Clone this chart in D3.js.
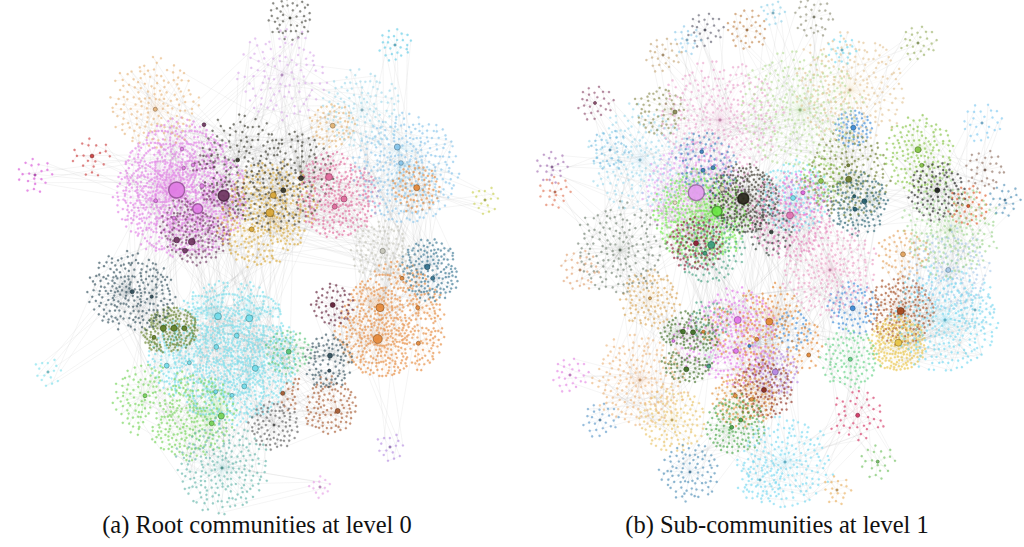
<!DOCTYPE html>
<html>
<head>
<meta charset="utf-8">
<script src="https://cdn.jsdelivr.net/npm/d3@7"></script>
<style>
  body { margin: 0; background: #fff; }
  svg { display: block; }
</style>
</head>
<body>
<svg id="chart" width="1024" height="547"></svg>
<script>
// layout coords: 0..500 per panel. community = [x, y, spread, leaf count]
var aCommunities = [
  [165,188,55,1000],[198,215,35,220],[256,222,45,320],[243,150,55,260],[323,195,38,260],
  [408,200,50,320],[403,188,22,70],[378,322,46,520],[215,345,56,1000],[158,330,20,170],
  [108,290,38,220],[140,405,45,330],[210,468,45,200],[306,400,30,120],[418,268,28,150],
  [138,95,45,150],[316,362,22,90],[262,425,22,80],[278,18,14,45],[383,45,9,25],
  [80,158,12,20],[276,352,20,60],[378,447,8,15],[23,175,10,20],[473,200,8,15],
  [36,372,8,15],[366,250,30,100],[308,487,6,12],[320,125,20,60],[321,305,18,50],
  [270,75,50,100],[350,110,40,120]
];
var aColors = [
  "#e07ce4","#6e3460","#d8a636","#35352a","#e0689a","#86c4ea","#e2883a","#e5893a","#72dcea","#5f7d22",
  "#2f4d5a","#74d458","#62b4aa","#a65a30","#33728f","#e6b57c","#2f4d5a","#5a5a5a","#4a4a40","#5fcbe6",
  "#cc3b3b","#55c476","#b48ae0","#d64fd6","#c8d050","#7ee0ec","#c4c4b8","#e6a0e6","#e2b272","#5e1c34",
  "#d9a8e8","#9fd8ea"
];
// hub = [community, x, y, degree]
var aHubs = [
  [0,164.7,190,640],[0,185.7,208.7,250],[0,190,186,50],[0,143.7,200.7,35],[0,162,218,35],[0,170,149,35],[0,181,165,35],[0,171.7,168,30],
  [1,211.7,195.7,300],[1,164.7,240,80],[1,179.7,241.7,110],[1,173,250.7,60],[1,192,124.7,35],
  [20,80,156,35],[15,143.3,109.3,40],
  [2,258,212.7,160],[2,261.3,195.3,90],[2,239.7,229.3,60],
  [3,289,178.3,60],[3,271.3,190.3,60],[3,225.7,160,35],
  [28,320.7,125.7,60],
  [4,317,177,120],[4,332,199,90],[4,322.7,206.7,60],
  [5,385.3,147,90],[5,389,163,55],[6,404.7,187.7,90],[26,370.7,251,70],
  [14,415.3,267,70],[14,420.7,278.3,40],[10,120.3,291.7,40],[10,139.7,296.7,25],[29,320.7,305,60],
  [7,368,307.7,160],[7,365.7,339,200],[7,390,278.3,40],[7,405.7,307.7,40],[7,406.3,343.3,40],
  [9,151.3,328.3,90],[9,162,328.3,90],[9,172.3,328.3,60],[9,142,337.3,40],
  [8,206,316.3,120],[8,237.3,318.3,120],[8,204.3,347,60],[8,224.7,335.7,60],[8,243.3,368.3,90],
  [8,154.7,365.7,60],[8,177.3,362.7,40],[8,232.3,386.3,60],[8,203.7,391.7,40],[8,220,395.3,40],
  [21,276.7,351.7,60],[16,318,355.7,60],[16,317.3,370.7,25],[13,270.7,393.3,40],[13,325.7,411,60],
  [11,209.3,416,90],[11,199.7,423.3,60],[11,133,395.7,40]
];
// bridge = [community a, community b, edge count]
var aBridges = [
  [0,1,40],[0,3,40],[0,8,30],[0,10,30],[0,15,25],[0,30,20],[1,2,30],[1,8,20],[2,3,40],[2,4,30],
  [2,8,40],[3,4,40],[3,18,10],[3,28,15],[3,30,20],[4,5,30],[4,26,20],[4,31,15],[5,6,15],[5,7,25],
  [5,14,20],[5,19,8],[5,24,8],[5,31,20],[7,14,20],[7,26,30],[7,29,15],[7,16,20],[7,22,6],[8,9,40],
  [8,11,40],[8,12,30],[8,13,30],[8,21,20],[8,16,20],[9,10,30],[10,25,8],[11,12,30],[12,27,5],[13,17,15],
  [16,29,15],[0,20,8],[0,23,8],[15,3,20],[28,0,15],[30,31,15],[8,17,20],[26,2,20],[10,11,20]
];

var bCommunities = [
  [162,190,40,300],[152,222,38,420],[217,198,28,260],[262,220,35,200],[267,195,30,150],
  [184,250,30,150],[168,245,22,110],[325,128,12,60],[332,202,25,130],[320,175,35,160],
  [390,155,30,150],[409,192,25,90],[440,206,12,40],[372,311,28,180],[370,345,22,200],
  [420,272,35,160],[417,320,45,260],[325,308,25,110],[207,340,35,260],[240,325,35,220],
  [160,345,25,160],[247,372,18,80],[236,390,25,120],[330,415,20,40],[222,402,25,120],
  [204,430,25,120],[257,462,40,180],[144,420,28,120],[162,472,25,80],[122,300,25,100],
  [42,375,10,25],[322,359,25,100],[192,120,55,280],[272,110,55,280],[322,90,50,220],
  [112,160,45,200],[422,230,40,200],[92,250,40,150],[302,270,40,220],[112,380,40,180],
  [112,110,20,60],[219,30,12,35],[177,30,10,25],[159,40,8,18],[286,17,12,30],
  [245,13,7,15],[390,43,10,25],[135,55,10,25],[314,50,8,20],[67,103,10,25],
  [24,167,9,20],[27,192,9,20],[477,200,9,20],[454,123,12,25],[309,490,8,18],
  [350,462,10,20],[232,480,15,40],[72,420,10,25],[52,270,12,30],[457,170,12,30],
  [447,310,12,30],[82,150,12,30],[194,189,15,30],[177,165,25,80],[242,230,20,50],
  [275,193,15,40],[293,181,18,50],[375,254,20,60]
];
var bColors = [
  "#e49cf0","#6ae844","#2d2a1e","#e274b4","#74e0f0","#3c9c7c","#8c1c34","#3a8ad8","#215c6c","#6c7c2c",
  "#84c444","#1e1e1e","#e05524","#a2471c","#e8c444","#a8c8e8","#72d8f0","#3a8ad8","#e274ea","#e28432",
  "#3c6c22","#b484e2","#8c2c1c","#d43464","#e2923c","#44a444","#74d8f0","#e8c468","#4c8cb4","#d8a454",
  "#e484e4","#62d284","#e8a0cc","#b4dc94","#e2c494","#9cd8ec","#9cd48c","#6f7f6f","#ec9cc4","#ecb47c",
  "#8a8a50","#c0844c","#5c5c6c","#8cc8e8","#8c8c74","#8ad0e8","#9ab064","#c4a474","#72d8f0","#8c4c6c",
  "#a06cb0","#e07454","#4c8cb4","#7ec8f0","#e8b060","#70c060","#74d8f0","#5c98c8","#e0a070","#8c6c5c",
  "#7ed0e8","#6cb4dc","#e8dcc0","#3a7ebc","#2c3c34","#e464e4","#84c444","#e2a25c"
];
var bHubs = [
  [0,168.3,192.7,640],[1,189,211.3,250],[2,215.3,198.7,300],[62,194,188.7,60],[62,147,202.7,35],
  [63,175,170.3,40],[63,185,167.7,40],[63,173.7,151.7,35],[6,168,243.3,60],[5,183.3,245,120],[5,177,253.3,40],
  [64,243.3,232,35],[3,262,215.3,120],[4,265,198,60],[65,275,192.7,40],[66,293,181,60],
  [9,320.7,179.3,90],[9,320.3,165.3,25],[7,325.3,127.7,60],[8,336.3,201.3,60],[8,327,209.3,40],[8,326.3,196.3,25],
  [10,390,149.7,90],[10,393.7,165.3,40],[11,409.3,190.3,60],[12,440.3,206,25],[40,147,112,40],[49,67,103,22],
  [67,375,254.3,60],[15,420.3,270,60],[17,324.7,308.3,60],[13,372.7,311,120],[14,370.3,342.7,120],
  [18,209.7,320,120],[18,208,351,60],[18,145.3,341,22],[19,241.3,321.7,120],[19,228.7,339.3,40],[19,280.7,355,40],[19,175.3,331.7,25],
  [17,221.3,346,22],[20,155,331.7,60],[20,165,332.3,60],[20,158.3,369.3,60],[5,180.7,366.3,40],
  [21,247.3,372,90],[22,236,390,60],[24,223.7,399.3,40],[24,207.3,395.7,40],[31,322.3,359.3,40],
  [25,203.7,427.3,40],[25,212.7,420,40],[23,329.7,415.3,40],[55,349.7,461.7,22],[29,122,298.3,22]
];
var bBridges = [
  [0,1,30],[0,2,25],[0,32,30],[0,35,25],[0,63,15],[0,62,10],[1,5,25],[1,6,20],[1,2,25],[1,37,20],
  [2,3,25],[2,4,20],[2,64,15],[2,33,20],[3,4,20],[3,38,25],[3,65,10],[4,66,10],[9,66,15],[9,8,20],
  [9,7,10],[9,34,20],[8,11,15],[10,11,15],[10,36,20],[10,59,8],[11,12,10],[11,36,15],[13,14,25],[13,15,20],
  [13,16,20],[13,67,15],[14,16,25],[15,16,20],[15,36,20],[16,60,8],[17,31,15],[17,38,20],[18,19,30],[18,20,20],
  [18,21,15],[19,21,15],[19,22,20],[19,38,20],[20,29,15],[20,27,15],[22,24,20],[24,25,20],[25,28,15],[25,26,15],
  [26,56,10],[26,23,15],[23,31,15],[27,39,20],[29,39,15],[37,29,20],[37,58,8],[37,35,20],[35,61,8],[35,49,8],
  [32,40,10],[32,47,8],[32,43,6],[33,41,8],[33,44,8],[34,48,6],[34,46,8],[33,45,5],[32,42,6],[35,50,6],
  [37,51,6],[36,52,6],[36,53,8],[39,57,8],[39,30,6],[26,54,5],[23,55,6],[2,19,20],[1,18,20],[5,20,15],
  [6,22,10],[16,14,15],[38,31,15],[4,17,15],[3,19,20],[33,9,20],[32,33,25],[36,15,15],[8,17,10],[21,26,10]
];

var captions = ["(a) Root communities at level 0", "(b) Sub-communities at level 1"];

var svg = d3.select("#chart");
var rScale = d3.scaleSqrt().domain([0, 640]).range([0, 8]);

var panels = [
  {comm: aCommunities, colors: aColors, hubs: aHubs, bridges: aBridges, left: 12, capX: 257, loose: 1.4},
  {comm: bCommunities, colors: bColors, hubs: bHubs, bridges: bBridges, left: 528, capX: 777, loose: 1.65}
];

var golden = Math.PI * (3 - Math.sqrt(5));
var CHARGE = 1.2, DMAX = 30;

panels.forEach(function(p, pi) {
  var x = d3.scaleLinear().domain([0, 500]).range([p.left, p.left + 500]);
  var y = d3.scaleLinear().domain([0, 500]).range([0, 500]);
  var groups = p.comm.map(function() { return {hubs: [], leaves: [], links: []}; });
  var allNodes = [], allLinks = [];

  p.hubs.forEach(function(h) {
    var n = {c: h[0], deg: h[3], hub: true, x: x(h[1]), y: y(h[2]), fx: x(h[1]), fy: y(h[2])};
    groups[h[0]].hubs.push(n);
  });

  p.comm.forEach(function(c, i) {
    var g = groups[i], cx = x(c[0]), cy = y(c[1]);
    if (!g.hubs.length) {
      g.hubs.push({c: i, deg: 12, hub: true, x: cx, y: cy, fx: cx, fy: cy});
    }
    var N = c[3], direct = Math.ceil(N * 0.4);
    var tot = d3.sum(g.hubs, function(h) { return h.deg; });
    var cum = Array.from(d3.cumsum(g.hubs, function(h) { return h.deg / tot; }));
    var Rf = c[2] * (N <= 45 ? 2 : p.loose);
    var k = Math.max(0.005, Math.min(0.4,
      4 * CHARGE * Math.PI * DMAX * DMAX / 2 * N / (Math.PI * Math.pow(Rf, 4)),
      N * CHARGE / (Rf * Rf)));
    for (var j = 0; j < N; j++) {
      var n = {c: i, hub: false}, parent, dist, str;
      if (j < direct) {
        parent = g.hubs[Math.min(g.hubs.length - 1, d3.bisectLeft(cum, (j + 0.5) / direct))];
        n.tx = (cx + parent.x) / 2; n.ty = (cy + parent.y) / 2;
        dist = c[2] * 0.4; str = 0.04;
        var rad = 1.1 * Math.sqrt(j + 0.5);
        n.x = parent.x + rad * Math.cos(j * golden);
        n.y = parent.y + rad * Math.sin(j * golden);
      } else {
        parent = g.leaves[Math.floor(j * 0.5)];
        n.tx = parent.tx; n.ty = parent.ty;
        dist = 6; str = 0.4;
        n.x = parent.x + 3 * Math.cos(j * golden);
        n.y = parent.y + 3 * Math.sin(j * golden);
      }
      g.leaves.push(n);
      g.links.push({source: parent, target: n, dist: dist, str: str, c: i});
    }

    // one small force layout per community, so that clouds can overlap
    var simNodes = g.hubs.concat(g.leaves);
    var sim = d3.forceSimulation(simNodes)
      .force("charge", d3.forceManyBody().strength(-CHARGE).distanceMax(DMAX).theta(0.9))
      .force("x", d3.forceX(function(d) { return d.hub ? d.x : d.tx; }).strength(function(d) { return d.hub ? 0 : k; }))
      .force("y", d3.forceY(function(d) { return d.hub ? d.y : d.ty; }).strength(function(d) { return d.hub ? 0 : k; }))
      .force("link", d3.forceLink(g.links).distance(function(l) { return l.dist; }).strength(function(l) { return l.str; }))
      .stop();
    for (var t = 0; t < 300; ++t) sim.tick();

    allNodes = allNodes.concat(simNodes);
    allLinks = allLinks.concat(g.links);
  });

  // cross-community edges
  var bridgeLinks = [];
  p.bridges.forEach(function(b) {
    var la = groups[b[0]].leaves, lb = groups[b[1]].leaves;
    for (var q = 0; q < b[2]; q++) {
      bridgeLinks.push({source: la[(q * 37) % la.length], target: lb[(q * 53 + 11) % lb.length]});
    }
  });

  var gp = svg.append("g").attr("class", "panel panel-" + pi);

  function seg(d) { return "M" + d.source.x.toFixed(1) + "," + d.source.y.toFixed(1) + "L" + d.target.x.toFixed(1) + "," + d.target.y.toFixed(1); }

  gp.append("path")
    .attr("class", "bridges")
    .attr("d", bridgeLinks.map(seg).join(""))
    .attr("fill", "none")
    .attr("stroke", "#a8a8a0")
    .attr("stroke-opacity", 0.22)
    .attr("stroke-width", 0.5);

  var byComm = d3.groups(allLinks, function(l) { return l.c; });
  gp.append("g").attr("class", "edges")
    .selectAll("path").data(byComm).join("path")
      .attr("d", function(d) { return d[1].map(seg).join(""); })
      .attr("fill", "none")
      .attr("stroke", function(d) { return p.colors[d[0]]; })
      .attr("stroke-opacity", 0.15)
      .attr("stroke-width", 0.5);

  gp.append("g").attr("class", "leaves")
    .selectAll("circle").data(allNodes.filter(function(d) { return !d.hub; })).join("circle")
      .attr("cx", function(d) { return d.x; })
      .attr("cy", function(d) { return d.y; })
      .attr("r", 1.1)
      .attr("fill", function(d) { return p.colors[d.c]; })
      .attr("fill-opacity", 0.62)
      .attr("stroke", function(d) { return p.colors[d.c]; })
      .attr("stroke-opacity", 0.5)
      .attr("stroke-width", 0.3);

  gp.append("g").attr("class", "hubs")
    .selectAll("circle").data(allNodes.filter(function(d) { return d.hub; }).sort(function(a, b) { return a.deg - b.deg; })).join("circle")
      .attr("cx", function(d) { return d.x; })
      .attr("cy", function(d) { return d.y; })
      .attr("r", function(d) { return rScale(d.deg); })
      .attr("fill", function(d) { return p.colors[d.c]; })
      .attr("fill-opacity", 0.92)
      .attr("stroke", function(d) { return d3.color(p.colors[d.c]).darker(1.3); })
      .attr("stroke-opacity", 0.8)
      .attr("stroke-width", function(d) { return d.deg > 200 ? 1.4 : 0.8; });

  svg.append("text")
    .attr("x", p.capX)
    .attr("y", 533)
    .attr("text-anchor", "middle")
    .attr("font-family", "'Liberation Serif', 'Times New Roman', serif")
    .attr("font-size", 24.5)
    .attr("fill", "#111")
    .text(captions[pi]);
});
</script>
</body>
</html>
